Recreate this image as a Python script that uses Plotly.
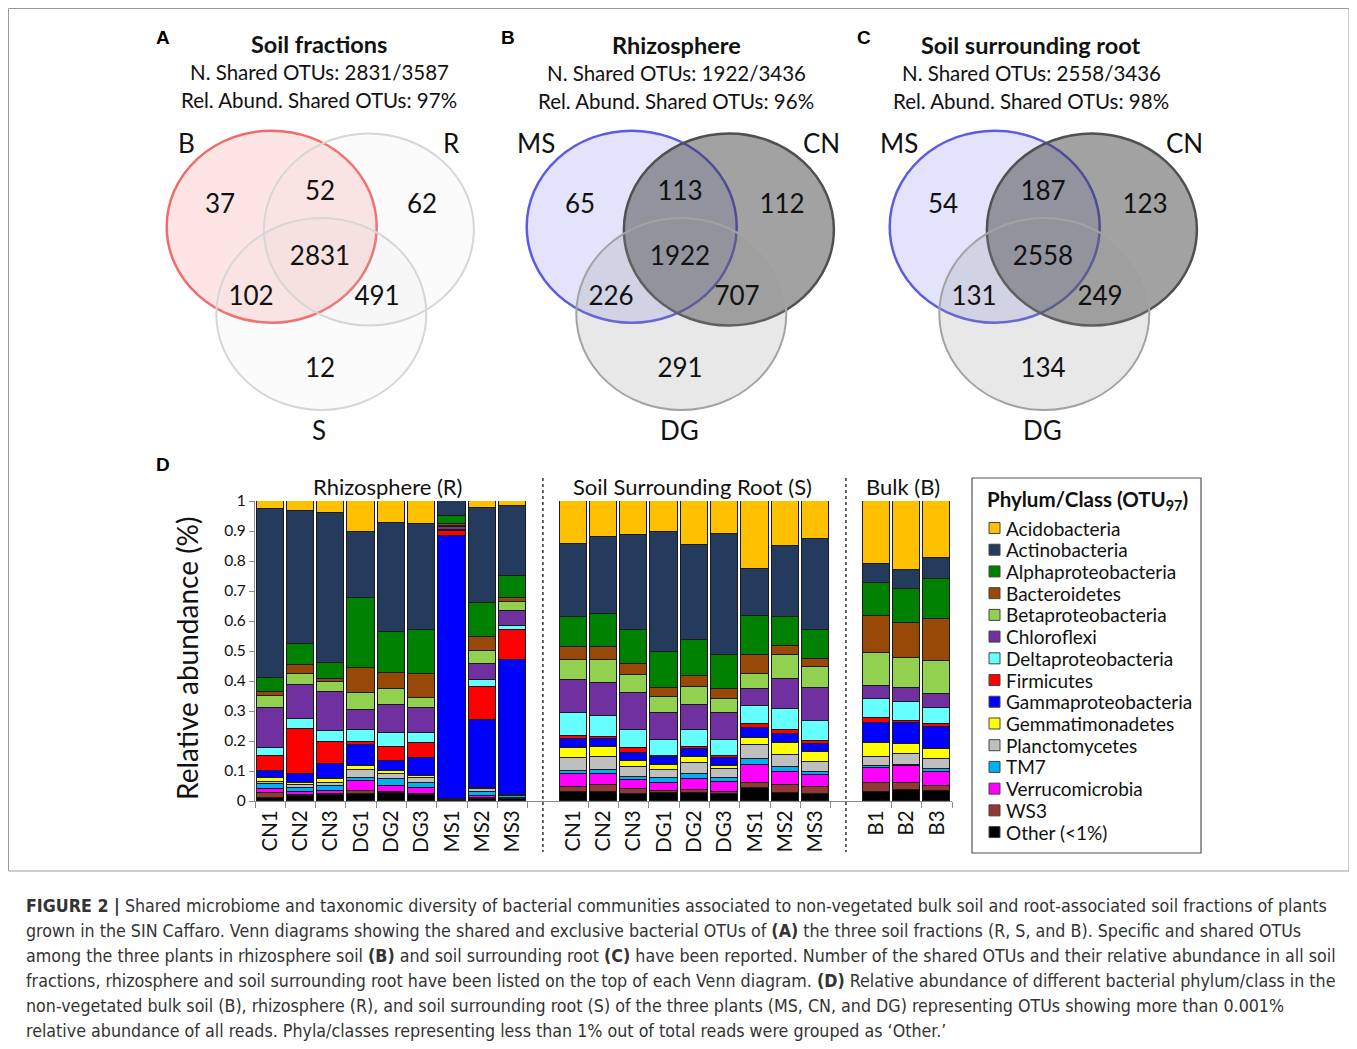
import plotly.graph_objects as go

W, H = 1357, 1049          # reference picture size
OFF = 8                    # page body margin in the browser
FW, FH = W - OFF, H - OFF  # figure size so the page does not overflow

# ---------------- DATA ----------------
samples = ["CN1", "CN2", "CN3", "DG1", "DG2", "DG3", "MS1", "MS2", "MS3",
           "CN1", "CN2", "CN3", "DG1", "DG2", "DG3", "MS1", "MS2", "MS3",
           "B1", "B2", "B3"]
slots = list(range(0, 9)) + list(range(10, 19)) + [20, 21, 22]
groups = ["Rhizosphere (R)", "Soil Surrounding Root (S)", "Bulk (B)"]

# values per sample: R CN1..MS3, S CN1..MS3, B1..B3
other   = [0.009,0.017,0.020,0.025,0.026,0.020,0.005,0.006,0.008, 0.029,0.029,0.023,0.026,0.028,0.023,0.044,0.028,0.023, 0.031,0.037,0.033]
ws3     = [0.017,0.004,0.003,0.008,0.004,0.003,0.000,0.004,0.001, 0.019,0.024,0.017,0.007,0.009,0.007,0.017,0.025,0.025, 0.030,0.024,0.018]
verruco = [0.013,0.009,0.010,0.034,0.020,0.019,0.001,0.008,0.002, 0.041,0.037,0.030,0.026,0.037,0.033,0.058,0.045,0.038, 0.048,0.056,0.047]
tm7     = [0.018,0.013,0.017,0.011,0.022,0.017,0.000,0.011,0.006, 0.011,0.013,0.009,0.017,0.016,0.013,0.020,0.016,0.012, 0.008,0.003,0.009]
plancto = [0.007,0.011,0.009,0.027,0.017,0.017,0.000,0.011,0.003, 0.044,0.043,0.033,0.027,0.038,0.030,0.048,0.039,0.033, 0.031,0.037,0.032]
gemma   = [0.014,0.007,0.013,0.011,0.011,0.007,0.000,0.002,0.000, 0.032,0.033,0.022,0.017,0.020,0.012,0.024,0.041,0.033, 0.046,0.033,0.034]
gamma   = [0.022,0.030,0.051,0.070,0.034,0.059,0.878,0.228,0.450, 0.030,0.027,0.027,0.026,0.024,0.025,0.033,0.029,0.026, 0.067,0.069,0.075]
firm    = [0.050,0.150,0.075,0.011,0.045,0.050,0.017,0.111,0.100, 0.011,0.009,0.015,0.005,0.007,0.008,0.012,0.014,0.011, 0.015,0.009,0.008]
delta   = [0.026,0.033,0.036,0.041,0.047,0.034,0.003,0.022,0.013, 0.075,0.067,0.061,0.052,0.058,0.052,0.061,0.069,0.067, 0.064,0.062,0.055]
chloro  = [0.135,0.113,0.130,0.064,0.094,0.083,0.008,0.054,0.051, 0.111,0.111,0.122,0.089,0.083,0.089,0.055,0.100,0.110, 0.043,0.048,0.046]
beta    = [0.040,0.037,0.032,0.058,0.052,0.033,0.006,0.043,0.028, 0.067,0.078,0.061,0.054,0.061,0.048,0.052,0.081,0.070, 0.111,0.098,0.110]
bact    = [0.013,0.030,0.010,0.083,0.056,0.080,0.006,0.048,0.014, 0.044,0.042,0.037,0.032,0.036,0.033,0.063,0.031,0.024, 0.124,0.116,0.139]
alpha   = [0.047,0.070,0.053,0.235,0.136,0.148,0.025,0.111,0.074, 0.100,0.111,0.113,0.118,0.120,0.114,0.129,0.096,0.098, 0.108,0.114,0.133]
actino  = [0.561,0.444,0.500,0.219,0.362,0.352,0.051,0.317,0.234, 0.242,0.256,0.317,0.402,0.316,0.403,0.156,0.236,0.303, 0.064,0.064,0.072]
acido   = [0.028,0.036,0.041,0.102,0.074,0.078,0.000,0.024,0.016, 0.144,0.121,0.113,0.102,0.147,0.110,0.228,0.150,0.127, 0.210,0.230,0.189]

# stacking order bottom -> top
phyla = ["Other (<1%)", "WS3", "Verrucomicrobia", "TM7", "Planctomycetes", "Gemmatimonadetes",
         "Gammaproteobacteria", "Firmicutes", "Deltaproteobacteria", "Chloroflexi",
         "Betaproteobacteria", "Bacteroidetes", "Alphaproteobacteria", "Actinobacteria", "Acidobacteria"]
series = [other, ws3, verruco, tm7, plancto, gemma, gamma, firm, delta, chloro, beta, bact, alpha, actino, acido]
colors = ["#000000", "#953735", "#FF00FF", "#00B0F0", "#BFBFBF", "#FFFF00",
          "#0000FF", "#FF0000", "#66FFFF", "#7030A0",
          "#92D050", "#984807", "#008000", "#243B5E", "#FFC000"]

# Venn data
venn_titles = ["Soil fractions", "Rhizosphere", "Soil surrounding root"]
venn_shared = ["2831/3587", "1922/3436", "2558/3436"]
venn_relab = ["97%", "96%", "98%"]
venn_sets = [["B", "R", "S"], ["MS", "CN", "DG"], ["MS", "CN", "DG"]]
# regions: left only, left&right, right only, all, left&bottom, right&bottom, bottom only
venn_counts = [[37, 52, 62, 2831, 102, 491, 12],
               [65, 113, 112, 1922, 226, 707, 291],
               [54, 187, 123, 2558, 131, 249, 134]]

caption = [
    "<b>FIGURE 2 |</b> Shared microbiome and taxonomic diversity of bacterial communities associated to non-vegetated bulk soil and root-associated soil fractions of plants",
    "grown in the SIN Caffaro. Venn diagrams showing the shared and exclusive bacterial OTUs of <b>(A)</b> the three soil fractions (R, S, and B). Specific and shared OTUs",
    "among the three plants in rhizosphere soil <b>(B)</b> and soil surrounding root <b>(C)</b> have been reported. Number of the shared OTUs and their relative abundance in all soil",
    "fractions, rhizosphere and soil surrounding root have been listed on the top of each Venn diagram. <b>(D)</b> Relative abundance of different bacterial phylum/class in the",
    "non-vegetated bulk soil (B), rhizosphere (R), and soil surrounding root (S) of the three plants (MS, CN, and DG) representing OTUs showing more than 0.001%",
    "relative abundance of all reads. Phyla/classes representing less than 1% out of total reads were grouped as \u2018Other.\u2019",
]

# ---------------- FIGURE ----------------
FONT = "Lato, Carlito, 'Open Sans', sans-serif"
fig = go.Figure()

def fx(px):
    return (px - OFF) / FW

def fy(py):
    return 1 - (py - OFF) / FH

for name, vals, col in zip(phyla, series, colors):
    fig.add_trace(go.Bar(x=slots, y=vals, name=name, width=0.9,
                         marker=dict(color=col, line=dict(color="#1a1a1a", width=1)),
                         showlegend=False, xaxis="x", yaxis="y"))

# Venn geometry (pixel space on overlay axes)
offs = [0, 360, 723]
title_x = [319, 676, 1031]
title_dy = [0, 1, 1]
cx = [271.7, 368.9, 321.3]
cy = [226.7, 229.5, 314.0]
rx, ry = 105, 96
lab_x = [220, 320, 422, 320, 251, 377, 320]
lab_y = [206, 193, 206, 258, 298, 298, 370]

styles = [
    [("rgba(250,80,80,0.15)", "#F26B6B", 2.5), ("rgba(200,200,200,0.08)", "#D6D6D6", 2), ("rgba(200,200,200,0.08)", "#D6D6D6", 2)],
    [("rgba(100,100,240,0.18)", "#5B5BE6", 2.5), ("rgba(60,60,60,0.48)", "#505050", 2.5), ("rgba(150,150,150,0.22)", "#A3A3A3", 2)],
    [("rgba(100,100,240,0.18)", "#5B5BE6", 2.5), ("rgba(60,60,60,0.48)", "#505050", 2.5), ("rgba(150,150,150,0.22)", "#A3A3A3", 2)],
]

shapes = []
annotations = []

def ann(x, y, text, size, bold=False, xanchor="center", family=FONT, color="#111", angle=0):
    annotations.append(dict(x=x, y=y, xref="x2", yref="y2", text=("<b>%s</b>" % text) if bold else text,
                            showarrow=False, xanchor=xanchor, yanchor="middle", textangle=angle,
                            font=dict(family=family, size=size, color=color)))

for v in range(3):
    dx = offs[v]
    for k in range(3):
        fill, line, lw = styles[v][k]
        shapes.append(dict(type="circle", xref="x2", yref="y2",
                           x0=cx[k] + dx - rx, x1=cx[k] + dx + rx,
                           y0=cy[k] - ry, y1=cy[k] + ry,
                           fillcolor=fill, line=dict(color=line, width=lw), layer="below"))
    fig.add_trace(go.Scatter(x=[lx + dx for lx in lab_x], y=lab_y, mode="text",
                             text=[str(c) for c in venn_counts[v]],
                             textfont=dict(family=FONT, size=26, color="#111"),
                             showlegend=False, xaxis="x2", yaxis="y2", hoverinfo="skip"))
    tx = title_x[v]
    ann(tx, 44 + title_dy[v], venn_titles[v], 23.5, bold=True)
    ann(tx, 72 + title_dy[v], "N. Shared OTUs: " + venn_shared[v], 20.5)
    ann(tx, 100 + title_dy[v], "Rel. Abund. Shared OTUs: " + venn_relab[v], 20.5)
    ann(197 + dx, 143, venn_sets[v][0], 26, xanchor="right")
    ann(441 + dx, 143, venn_sets[v][1], 26, xanchor="left")
    ann(319 + dx, 430, venn_sets[v][2], 26)

for letter, x, y in [("A", 163, 37), ("B", 508, 37), ("C", 864, 37), ("D", 163, 464)]:
    ann(x, y, letter, 19, bold=True, family="Liberation Sans, Arial, sans-serif", color="#000")

# group titles
for g, x in zip(groups, [388, 692, 903]):
    ann(x, 486, g, 22)

# y axis title
ann(187, 658, "Relative abundance (%)", 28, angle=-90)

# separators between groups
for s in [9, 19]:
    shapes.append(dict(type="line", xref="x", yref="y2", x0=s, x1=s, y0=478, y1=852,
                       line=dict(color="#333", width=1.5, dash="dot")))

# legend (manual)
shapes.append(dict(type="rect", xref="x2", yref="y2", x0=972, x1=1201, y0=478, y1=853,
                   line=dict(color="#555", width=1.2), fillcolor="rgba(0,0,0,0)"))
ann(1087, 500, "Phylum/Class (OTU<sub>97</sub>)", 20.5, bold=True)
for i, (name, col) in enumerate(zip(phyla[::-1], colors[::-1])):
    yy = 528 + i * 21.72
    shapes.append(dict(type="rect", xref="x2", yref="y2", x0=989, x1=1000, y0=yy - 5.5, y1=yy + 5.5,
                       fillcolor=col, line=dict(color="#444", width=1)))
    ann(1004, yy, name, 19, xanchor="left")

# frame
shapes.append(dict(type="rect", xref="x2", yref="y2", x0=8.5, x1=1349, y0=8.5, y1=871,
                   line=dict(color="#9a9a9a", width=1), fillcolor="rgba(0,0,0,0)", layer="below"))

# caption
for i, line in enumerate(caption):
    annotations.append(dict(x=24, y=906 + 25 * i, xref="x2", yref="y2", text=line, showarrow=False,
                            xanchor="left", yanchor="middle",
                            font=dict(family="'DejaVu Sans Condensed', sans-serif",
                                      size=17.7, color="#333")))

half = [s + 0.5 for s in slots[:-1]] + [-0.5, 22.5]
fig.update_layout(
    template="none",
    width=FW, height=FH, margin=dict(l=0, r=0, t=0, b=0, pad=0, autoexpand=False),
    paper_bgcolor="white", plot_bgcolor="rgba(0,0,0,0)",
    barmode="stack", bargap=0, showlegend=False,
    shapes=shapes, annotations=annotations,
    xaxis=dict(domain=[fx(255), fx(952)], range=[-0.5, 22.5], tickmode="array",
               tickvals=slots, ticktext=samples, tickangle=-90, ticks="",
               showline=True, linecolor="#8a8a8a", linewidth=1.2, showgrid=False, zeroline=False,
               tickfont=dict(family=FONT, size=20.5, color="#111"),
               minor=dict(tickmode="array", tickvals=half, ticks="outside", ticklen=6, tickcolor="#8a8a8a",
                          showgrid=False),
               anchor="y", fixedrange=True, automargin=False),
    yaxis=dict(domain=[fy(801), fy(501)], range=[0, 1], tickmode="array",
               tickvals=[i / 10 for i in range(11)],
               ticktext=["0"] + ["0.%d" % i for i in range(1, 10)] + ["1"],
               ticks="outside", ticklen=5, tickcolor="#8a8a8a",
               showline=True, linecolor="#8a8a8a", linewidth=1.2, showgrid=False, zeroline=False,
               tickfont=dict(family=FONT, size=15.5, color="#111"), anchor="x", fixedrange=True,
               automargin=False),
    xaxis2=dict(domain=[0, 1], range=[OFF, W], visible=False, anchor="y2", fixedrange=True,
                automargin=False),
    yaxis2=dict(domain=[0, 1], range=[H, OFF], visible=False, anchor="x2", fixedrange=True,
                automargin=False),
)

fig.write_html("out.html")
